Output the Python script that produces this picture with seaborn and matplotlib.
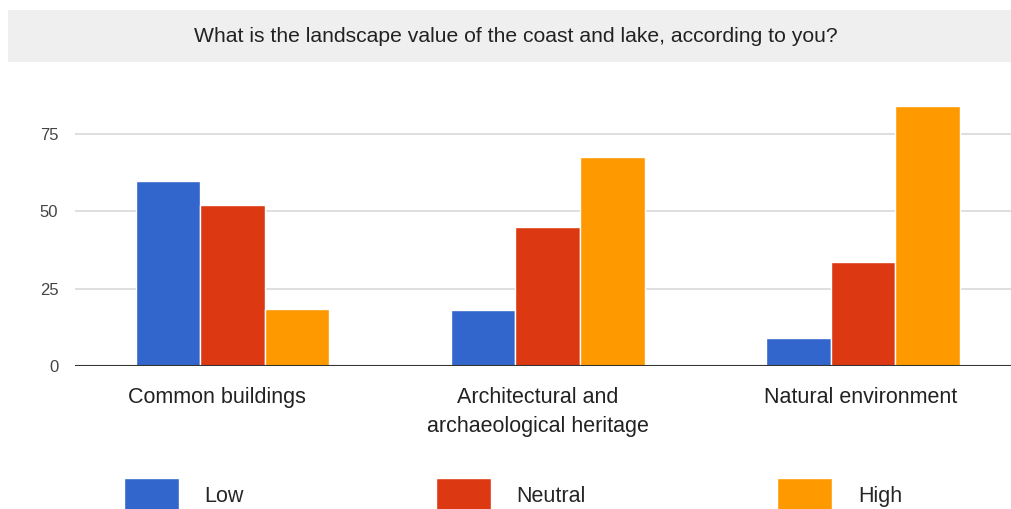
import matplotlib
matplotlib.use("Agg")
import matplotlib.pyplot as plt
import matplotlib.patches as mpatches
import matplotlib.transforms as mtransforms
import seaborn as sns
import pandas as pd

categories = ["Common buildings", "Architectural and\narchaeological heritage", "Natural environment"]
levels = ["Low", "Neutral", "High"]
low = [60, 18, 9]
neutral = [52, 45, 33.5]
high = [18.5, 67.5, 84]
colors = ["#3366cc", "#dc3912", "#ff9900"]

df = pd.DataFrame({
    "category": categories * 3,
    "level": ["Low"] * 3 + ["Neutral"] * 3 + ["High"] * 3,
    "value": low + neutral + high,
})

sns.set_style("white")
plt.rcParams["font.family"] = ["Liberation Sans", "DejaVu Sans"]

W, H = 1011, 509
fig = plt.figure(figsize=(W / 100, H / 100), dpi=100)

# grey title band
fig.patches.append(mpatches.Rectangle((8 / W, 1 - 62 / H), 1 - 8 / W, 52 / H,
                                      transform=fig.transFigure, facecolor="#efefef",
                                      edgecolor="none", zorder=0))
fig.text(516 / W, 1 - 37 / H, "What is the landscape value of the coast and lake, according to you?",
         ha="center", va="center", fontsize=15.2, color="#222222")

ax = fig.add_axes([75 / W, 1 - 366 / H, 1 - 75 / W, (366 - 94) / H])
sns.barplot(data=df, x="category", y="value", hue="level", hue_order=levels,
            palette=colors, width=0.615, edgecolor="white", linewidth=1,
            saturation=1, ax=ax)

ax.set_ylim(0, 88)
ax.set_xlim(-0.5, 2.47)
ax.set_yticks([0, 25, 50, 75])
ax.yaxis.grid(True, color="#d9d9d9", linewidth=1.2)
ax.set_axisbelow(True)
ax.axhline(0, color="#333333", linewidth=1.5, zorder=5)
for s in ax.spines.values():
    s.set_visible(False)
ax.set_xlabel("")
ax.set_ylabel("")
ax.tick_params(axis="y", length=0, pad=12, labelsize=12, labelcolor="#444444")
ax.tick_params(axis="x", length=0, pad=15, labelsize=15.5, labelcolor="#222222")

# labels in the reference sit a little left of the group centres
label_shift_px = [-16, -10, -2]
for lab, dx in zip(ax.get_xticklabels(), label_shift_px):
    lab.set_linespacing(1.5)
    lab.set_transform(lab.get_transform() + mtransforms.ScaledTranslation(dx / 100, 0, fig.dpi_scale_trans))

sns.move_legend(ax, "upper left", bbox_to_anchor=(128 / W - 0.004, 1 - 478 / H),
                bbox_transform=fig.transFigure, ncol=3, frameon=False, title=None,
                fontsize=15.5, handlelength=2.55, handleheight=2.1,
                handletextpad=1.2, columnspacing=8.9, borderpad=0, borderaxespad=0)

fig.savefig("out.png", dpi=100)
